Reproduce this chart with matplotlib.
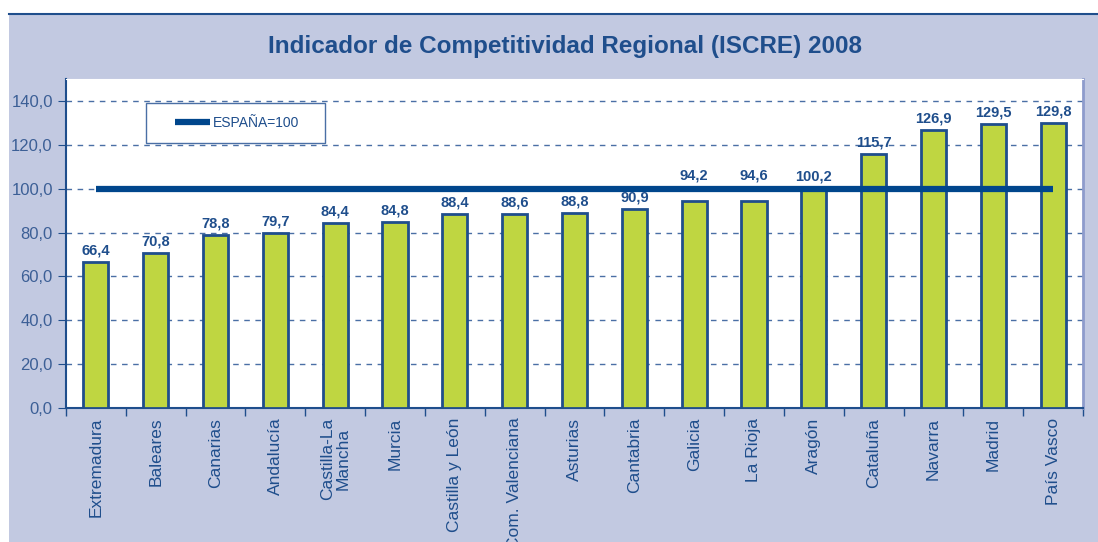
import matplotlib.pyplot as plt
from matplotlib.patches import Rectangle
import numpy as np

regiones = ['Extremadura', 'Baleares', 'Canarias', 'Andalucía', 'Castilla-La\nMancha',
            'Murcia', 'Castilla y León', 'Com. Valenciana', 'Asturias', 'Cantabria',
            'Galicia', 'La Rioja', 'Aragón', 'Cataluña', 'Navarra', 'Madrid', 'País Vasco']
iscre = [66.4, 70.8, 78.8, 79.7, 84.4, 84.8, 88.4, 88.6, 88.8, 90.9,
         94.2, 94.6, 100.2, 115.7, 126.9, 129.5, 129.8]
espana = 100

azul = '#1f4e8c'
verde = '#bfd641'
fondo = '#c2c9e1'

plt.rcParams['font.family'] = ['Liberation Sans', 'DejaVu Sans']

fig = plt.figure(figsize=(10.98, 5.42), dpi=100)
fig.patch.set_facecolor('white')
# panel de fondo
bg = fig.add_axes([9/1098, 0, 1 - 9/1098, 1 - 14/542])
bg.set_facecolor(fondo)
bg.set_xticks([]); bg.set_yticks([])
for s in ['left', 'right', 'bottom']:
    bg.spines[s].set_visible(False)
bg.spines['top'].set_color(azul)
bg.spines['top'].set_linewidth(1.5)
bg.set_zorder(0)

fig.text(565/1098, 1 - 47/542, 'Indicador de Competitividad Regional (ISCRE) 2008',
         ha='center', va='center', fontsize=17.5, fontweight='bold', color=azul)

ax = fig.add_axes([66/1098, 1 - 408/542, (1083-66)/1098, (408-79)/542])
ax.set_facecolor('white')
x = np.arange(len(regiones))
ax.bar(x, iscre, width=0.42, color=verde, edgecolor=azul, linewidth=2, zorder=3)
for xi, v in zip(x, iscre):
    y = v + 2
    if espana - 8 < v < espana:
        y = espana + 3  # etiqueta por encima de la linea
    ax.text(xi, y, ('%.1f' % v).replace('.', ','), ha='center', va='bottom',
            fontsize=10.5, fontweight='bold', color=azul, zorder=5)
ax.plot([x[0], x[-1]], [espana, espana], color='#00468c', linewidth=4.5,
        solid_capstyle='butt', zorder=4, label='ESPAÑA=100')

ax.set_xlim(-0.5, len(regiones) - 0.5)
ax.set_ylim(0, 150)
ax.set_yticks(np.arange(0, 141, 20))
ax.set_yticklabels([('%.1f' % t).replace('.', ',') for t in np.arange(0, 141, 20)])
ax.yaxis.grid(True, linestyle=(0, (4, 4)), color='#4a6fa5', linewidth=1)
ax.set_axisbelow(True)

ax.set_xticks(x)
ax.set_xticklabels(regiones, rotation=90, va='top', ha='center', fontsize=12.5,
                   color=azul, linespacing=1.05)
ax.tick_params(axis='x', length=0, pad=7)
ax.set_xticks(np.arange(-0.5, len(regiones)), minor=True)
ax.tick_params(axis='x', which='minor', length=6, color=azul, width=1, direction='out')
ax.tick_params(axis='y', length=6, color=azul, labelsize=12, labelcolor='#3c5f96')

ax.spines['left'].set_color(azul)
ax.spines['bottom'].set_color(azul)
ax.spines['left'].set_linewidth(1.5)
ax.spines['bottom'].set_linewidth(1.5)
ax.spines['top'].set_color('#ffffff')
ax.spines['right'].set_color('#8e9ccc')
ax.spines['right'].set_linewidth(2)

# caja de la leyenda
ax.add_patch(Rectangle((80/1017, (408-143)/329), 179/1017, 40/329, transform=ax.transAxes,
                       facecolor='white', edgecolor='#4a6fa5', linewidth=1, zorder=6))
leg = ax.legend(loc='center left', bbox_to_anchor=((175-66)/1017, (408-123)/329),
                frameon=False, fontsize=10, borderpad=0, handlelength=2.5,
                handletextpad=0.25, borderaxespad=0)
leg.set_zorder(7)
for t in leg.get_texts():
    t.set_color(azul)

fig.savefig('out.png', dpi=100, facecolor=fig.get_facecolor())
